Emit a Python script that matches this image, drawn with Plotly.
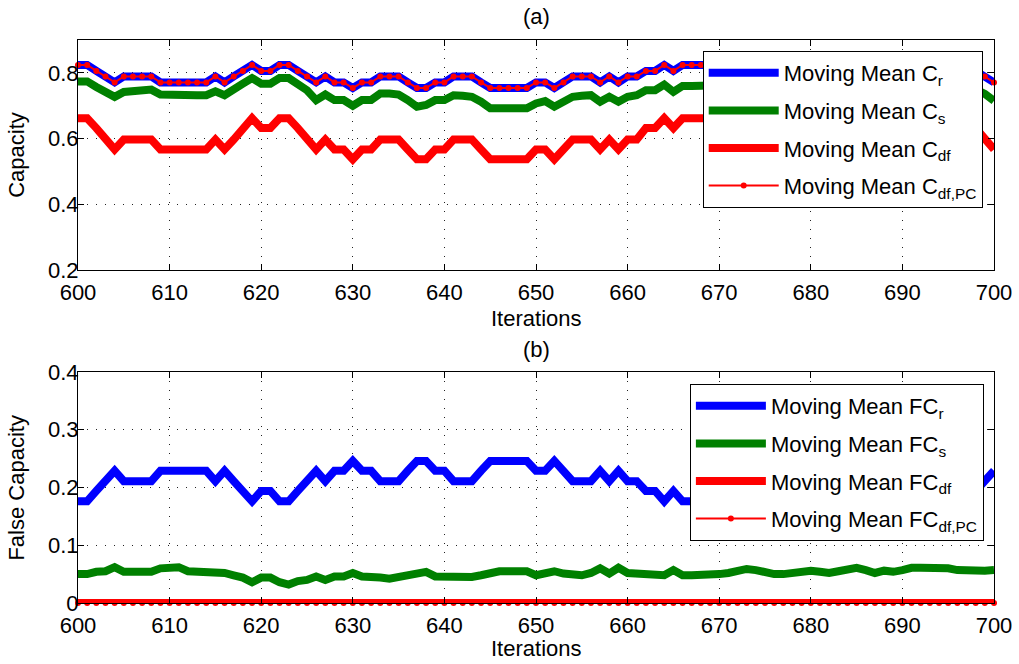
import plotly.graph_objects as go

# ---------------- data ----------------
iterations = list(range(600, 701))

cap_r = [
    0.824, 0.824, 0.806, 0.789, 0.771, 0.789, 0.789, 0.789, 0.789, 0.771,
    0.771, 0.771, 0.771, 0.771, 0.771, 0.789, 0.771, 0.789, 0.806, 0.824,
    0.806, 0.806, 0.824, 0.824, 0.806, 0.789, 0.771, 0.789, 0.771, 0.771,
    0.754, 0.771, 0.771, 0.789, 0.789, 0.789, 0.771, 0.754, 0.754, 0.771,
    0.771, 0.789, 0.789, 0.789, 0.771, 0.754, 0.754, 0.754, 0.754, 0.754,
    0.771, 0.771, 0.754, 0.771, 0.789, 0.789, 0.789, 0.771, 0.789, 0.771,
    0.789, 0.789, 0.806, 0.806, 0.824, 0.806, 0.824, 0.824, 0.824, 0.824,
    0.824, 0.806, 0.806, 0.824, 0.824, 0.806, 0.789, 0.789, 0.806, 0.824,
    0.824, 0.806, 0.806, 0.789, 0.806, 0.824, 0.824, 0.824, 0.806, 0.789,
    0.806, 0.806, 0.824, 0.824, 0.806, 0.806, 0.789, 0.806, 0.806, 0.789,
    0.771,
]

cap_s = [
    0.774, 0.774, 0.757, 0.742, 0.727, 0.742, 0.744, 0.747, 0.749, 0.734,
    0.732, 0.732, 0.732, 0.732, 0.732, 0.744, 0.732, 0.747, 0.767, 0.784,
    0.767, 0.767, 0.784, 0.784, 0.767, 0.747, 0.717, 0.734, 0.717, 0.717,
    0.700, 0.717, 0.717, 0.737, 0.737, 0.734, 0.717, 0.697, 0.702, 0.717,
    0.717, 0.732, 0.730, 0.727, 0.712, 0.692, 0.692, 0.692, 0.692, 0.692,
    0.707, 0.714, 0.697, 0.712, 0.727, 0.730, 0.732, 0.712, 0.727, 0.712,
    0.727, 0.732, 0.747, 0.747, 0.764, 0.742, 0.760, 0.760, 0.760, 0.760,
    0.762, 0.748, 0.748, 0.762, 0.764, 0.748, 0.732, 0.735, 0.748, 0.765,
    0.764, 0.750, 0.748, 0.733, 0.750, 0.764, 0.766, 0.764, 0.748, 0.733,
    0.748, 0.750, 0.764, 0.765, 0.750, 0.748, 0.733, 0.748, 0.750, 0.736,
    0.715,
]

cap_df = [
    0.662, 0.662, 0.632, 0.597, 0.567, 0.597, 0.597, 0.597, 0.597, 0.567,
    0.567, 0.567, 0.567, 0.567, 0.567, 0.597, 0.567, 0.597, 0.632, 0.662,
    0.632, 0.632, 0.662, 0.662, 0.632, 0.597, 0.567, 0.597, 0.567, 0.567,
    0.537, 0.567, 0.567, 0.597, 0.597, 0.597, 0.567, 0.537, 0.537, 0.567,
    0.567, 0.597, 0.597, 0.597, 0.567, 0.537, 0.537, 0.537, 0.537, 0.537,
    0.567, 0.567, 0.537, 0.567, 0.597, 0.597, 0.597, 0.567, 0.597, 0.567,
    0.597, 0.597, 0.632, 0.632, 0.662, 0.632, 0.662, 0.662, 0.662, 0.662,
    0.662, 0.632, 0.632, 0.662, 0.662, 0.632, 0.597, 0.597, 0.632, 0.662,
    0.662, 0.632, 0.632, 0.597, 0.632, 0.662, 0.662, 0.662, 0.632, 0.597,
    0.632, 0.632, 0.662, 0.662, 0.632, 0.632, 0.597, 0.632, 0.632, 0.597,
    0.567,
]

cap_df_pc = [
    0.824, 0.824, 0.806, 0.789, 0.771, 0.789, 0.789, 0.789, 0.789, 0.771,
    0.771, 0.771, 0.771, 0.771, 0.771, 0.789, 0.771, 0.789, 0.806, 0.824,
    0.806, 0.806, 0.824, 0.824, 0.806, 0.789, 0.771, 0.789, 0.771, 0.771,
    0.754, 0.771, 0.771, 0.789, 0.789, 0.789, 0.771, 0.754, 0.754, 0.771,
    0.771, 0.789, 0.789, 0.789, 0.771, 0.754, 0.754, 0.754, 0.754, 0.754,
    0.771, 0.771, 0.754, 0.771, 0.789, 0.789, 0.789, 0.771, 0.789, 0.771,
    0.789, 0.789, 0.806, 0.806, 0.824, 0.806, 0.824, 0.824, 0.824, 0.824,
    0.824, 0.806, 0.806, 0.824, 0.824, 0.806, 0.789, 0.789, 0.806, 0.824,
    0.824, 0.806, 0.806, 0.789, 0.806, 0.824, 0.824, 0.824, 0.806, 0.789,
    0.806, 0.806, 0.824, 0.824, 0.806, 0.806, 0.789, 0.806, 0.806, 0.789,
    0.771,
]

fc_r = [
    0.176, 0.176, 0.194, 0.211, 0.229, 0.211, 0.211, 0.211, 0.211, 0.229,
    0.229, 0.229, 0.229, 0.229, 0.229, 0.211, 0.229, 0.211, 0.194, 0.176,
    0.194, 0.194, 0.176, 0.176, 0.194, 0.211, 0.229, 0.211, 0.229, 0.229,
    0.246, 0.229, 0.229, 0.211, 0.211, 0.211, 0.229, 0.246, 0.246, 0.229,
    0.229, 0.211, 0.211, 0.211, 0.229, 0.246, 0.246, 0.246, 0.246, 0.246,
    0.229, 0.229, 0.246, 0.229, 0.211, 0.211, 0.211, 0.229, 0.211, 0.229,
    0.211, 0.211, 0.194, 0.194, 0.176, 0.194, 0.176, 0.176, 0.176, 0.176,
    0.176, 0.194, 0.194, 0.176, 0.176, 0.194, 0.211, 0.211, 0.194, 0.176,
    0.176, 0.194, 0.194, 0.211, 0.194, 0.176, 0.176, 0.176, 0.194, 0.211,
    0.194, 0.194, 0.176, 0.176, 0.194, 0.194, 0.211, 0.194, 0.194, 0.211,
    0.229,
]

fc_s = [
    0.050, 0.050, 0.054, 0.055, 0.062, 0.054, 0.054, 0.054, 0.054, 0.060,
    0.062, 0.062, 0.055, 0.055, 0.055, 0.055, 0.052, 0.048, 0.044, 0.036,
    0.044, 0.044, 0.036, 0.032, 0.038, 0.040, 0.046, 0.040, 0.046, 0.046,
    0.052, 0.046, 0.046, 0.044, 0.042, 0.045, 0.050, 0.054, 0.054, 0.046,
    0.045, 0.045, 0.045, 0.045, 0.048, 0.052, 0.055, 0.055, 0.055, 0.055,
    0.048, 0.051, 0.055, 0.051, 0.048, 0.048, 0.052, 0.060, 0.051, 0.061,
    0.052, 0.051, 0.048, 0.048, 0.048, 0.057, 0.048, 0.048, 0.048, 0.050,
    0.050, 0.052, 0.055, 0.059, 0.057, 0.052, 0.050, 0.050, 0.052, 0.055,
    0.056, 0.054, 0.052, 0.055, 0.058, 0.061, 0.057, 0.052, 0.056, 0.054,
    0.057, 0.061, 0.061, 0.061, 0.061, 0.060, 0.057, 0.056, 0.056, 0.056,
    0.057,
]

fc_df = [
    0, 0, 0, 0, 0, 0, 0, 0, 0, 0,
    0, 0, 0, 0, 0, 0, 0, 0, 0, 0,
    0, 0, 0, 0, 0, 0, 0, 0, 0, 0,
    0, 0, 0, 0, 0, 0, 0, 0, 0, 0,
    0, 0, 0, 0, 0, 0, 0, 0, 0, 0,
    0, 0, 0, 0, 0, 0, 0, 0, 0, 0,
    0, 0, 0, 0, 0, 0, 0, 0, 0, 0,
    0, 0, 0, 0, 0, 0, 0, 0, 0, 0,
    0, 0, 0, 0, 0, 0, 0, 0, 0, 0,
    0, 0, 0, 0, 0, 0, 0, 0, 0, 0,
    0,
]

fc_df_pc = list(fc_df)

top_names = ["Moving Mean C<sub>r</sub>", "Moving Mean C<sub>s</sub>",
             "Moving Mean C<sub>df</sub>", "Moving Mean C<sub>df,PC</sub>"]
bot_names = ["Moving Mean FC<sub>r</sub>", "Moving Mean FC<sub>s</sub>",
             "Moving Mean FC<sub>df</sub>", "Moving Mean FC<sub>df,PC</sub>"]

x_ticks = list(range(600, 701, 10))
top_y_ticks = [0.2, 0.4, 0.6, 0.8]
bot_y_ticks = [0, 0.1, 0.2, 0.3, 0.4]

# ---------------- figure ----------------
FONT = "Liberation Sans, Arial, Helvetica, sans-serif"
FS = 22
BLUE, GREEN, RED = "#0000FF", "#008000", "#FF0000"
THICK = 8

fig = go.Figure()

def add_set(vals, names, xa, ya, leg):
    r, s, df, pc = vals
    fig.add_trace(go.Scatter(x=iterations, y=r, name=names[0], mode="lines",
                             line=dict(color=BLUE, width=THICK), xaxis=xa, yaxis=ya,
                             legend=leg, legendgroup=leg + "a"))
    fig.add_trace(go.Scatter(x=iterations, y=s, name=names[1], mode="lines",
                             line=dict(color=GREEN, width=THICK), xaxis=xa, yaxis=ya,
                             legend=leg, legendgroup=leg + "b"))
    fig.add_trace(go.Scatter(x=iterations, y=df, name=names[2], mode="lines",
                             line=dict(color=RED, width=THICK), xaxis=xa, yaxis=ya,
                             legend=leg, legendgroup=leg + "c"))
    fig.add_trace(go.Scatter(x=iterations, y=pc, name=names[3], mode="lines+markers",
                             line=dict(color=RED, width=2),
                             marker=dict(color=RED, size=6, symbol="circle"),
                             xaxis=xa, yaxis=ya, legend=leg, legendgroup=leg + "d",
                             cliponaxis=False))

add_set((cap_r, cap_s, cap_df, cap_df_pc), top_names, "x", "y", "legend")
add_set((fc_r, fc_s, fc_df, fc_df_pc), bot_names, "x2", "y2", "legend2")

axis_common = dict(showline=True, linecolor="black", linewidth=1, mirror="ticks",
                   ticks="inside", ticklen=6, tickcolor="black", tickwidth=1,
                   showgrid=True, gridcolor="#222222", griddash="1px,8px", gridwidth=1,
                   zeroline=False, automargin=False,
                   tickfont=dict(size=FS, color="black", family=FONT))

fig.update_layout(
    width=1019, height=664,
    margin=dict(l=78, r=25, t=40, b=61, pad=0),
    paper_bgcolor="white", plot_bgcolor="white",
    font=dict(family=FONT, color="black", size=FS),
    xaxis=dict(domain=[0, 1], anchor="y", range=[600, 700], tickvals=x_ticks,
               ticklabelstandoff=3, **axis_common),
    yaxis=dict(domain=[0.5915, 1], anchor="x", range=[0.2, 0.9], tickvals=top_y_ticks,
               tickformat=".1f", ticklabelstandoff=-6, **axis_common),
    xaxis2=dict(domain=[0, 1], anchor="y2", range=[600, 700], tickvals=x_ticks,
                ticklabelstandoff=3, **axis_common),
    yaxis2=dict(domain=[0, 0.4103], anchor="x2", range=[0, 0.4], tickvals=bot_y_ticks,
                ticktext=["0", "0.1", "0.2", "0.3", "0.4"], ticklabelstandoff=-6,
                **axis_common),
    legend=dict(x=0.682, y=0.9805, xanchor="left", yanchor="top", bgcolor="white",
                bordercolor="black", borderwidth=1, font=dict(size=FS, family=FONT),
                tracegroupgap=6, itemwidth=70),
    legend2=dict(x=0.668, y=0.389, xanchor="left", yanchor="top", bgcolor="white",
                 bordercolor="black", borderwidth=1, font=dict(size=FS, family=FONT),
                 tracegroupgap=6, itemwidth=70),
    showlegend=True,
)

annots = [
    dict(text="(a)", x=0.5, y=1.0409, xref="paper", yref="paper", showarrow=False,
         font=dict(size=FS), xanchor="center", yanchor="middle"),
    dict(text="(b)", x=0.5, y=0.4494, xref="paper", yref="paper", showarrow=False,
         font=dict(size=FS), xanchor="center", yanchor="middle"),
    dict(text="Iterations", x=0.5, y=0.506, xref="paper", yref="paper", showarrow=False,
         font=dict(size=FS), xanchor="center", yanchor="middle"),
    dict(text="Iterations", x=0.5, y=-0.08, xref="paper", yref="paper", showarrow=False,
         font=dict(size=FS), xanchor="center", yanchor="middle"),
    dict(text="Capacity", x=-0.0666, y=0.796, xref="paper", yref="paper", showarrow=False,
         font=dict(size=FS), textangle=-90, xanchor="center", yanchor="middle"),
    dict(text="False Capacity", x=-0.0666, y=0.205, xref="paper", yref="paper",
         showarrow=False, font=dict(size=FS), textangle=-90,
         xanchor="center", yanchor="middle"),
]
fig.update_layout(annotations=annots)

fig.write_html("out.html", config={"displayModeBar": False},
               post_script="document.body.style.margin='0';document.body.style.padding='0';")
